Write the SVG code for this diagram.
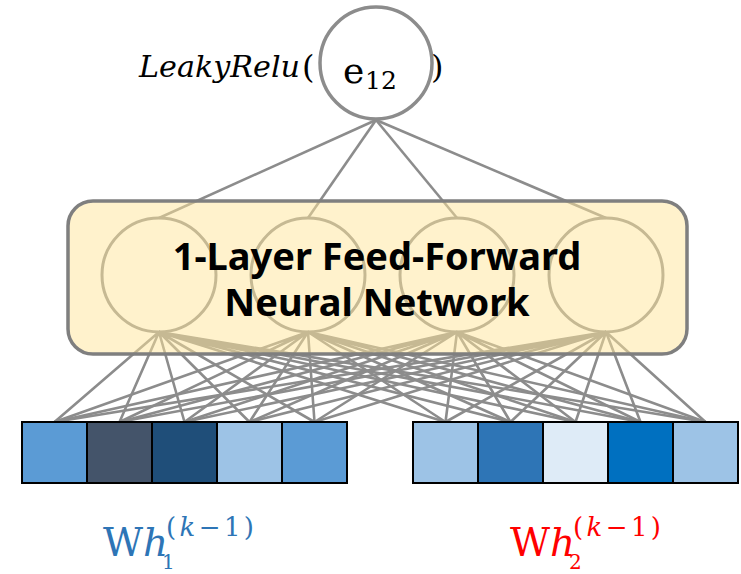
<svg xmlns="http://www.w3.org/2000/svg" width="741" height="574" viewBox="0 0 741 574">
<style>
.ln{stroke:#8c8c8c;stroke-width:2.6;fill:none}
.neuron{fill:none;stroke:#8c8c8c;stroke-width:3}
.cell{stroke:#000;stroke-width:2}
.math{font-family:"DejaVu Serif","Liberation Serif",serif}
.title{font-family:"Noto Sans",sans-serif;font-weight:700;font-size:38px;fill:#000;text-anchor:middle}
</style>
<rect width="741" height="574" fill="#fff"/>
<g id="connectors">
<line class="ln" x1="376" y1="120" x2="159" y2="218"/>
<line class="ln" x1="376" y1="120" x2="308" y2="218"/>
<line class="ln" x1="376" y1="120" x2="457" y2="218"/>
<line class="ln" x1="376" y1="120" x2="606" y2="218"/>
<g id="bottom-lines">
<path class="ln" d="M159 332L54.5 422M159 332L119.5 422M159 332L184.5 422M159 332L249.5 422M159 332L314.5 422M159 332L445.5 422M159 332L510.5 422M159 332L575.5 422M159 332L640.5 422M159 332L705.5 422"/>
<path class="ln" d="M308 332L54.5 422M308 332L119.5 422M308 332L184.5 422M308 332L249.5 422M308 332L314.5 422M308 332L445.5 422M308 332L510.5 422M308 332L575.5 422M308 332L640.5 422M308 332L705.5 422"/>
<path class="ln" d="M457 332L54.5 422M457 332L119.5 422M457 332L184.5 422M457 332L249.5 422M457 332L314.5 422M457 332L445.5 422M457 332L510.5 422M457 332L575.5 422M457 332L640.5 422M457 332L705.5 422"/>
<path class="ln" d="M606 332L54.5 422M606 332L119.5 422M606 332L184.5 422M606 332L249.5 422M606 332L314.5 422M606 332L445.5 422M606 332L510.5 422M606 332L575.5 422M606 332L640.5 422M606 332L705.5 422"/>
</g>
</g>
<g id="hidden-neurons">
<circle id="n1" class="neuron" cx="159" cy="275" r="57"/>
<circle id="n2" class="neuron" cx="308" cy="275" r="57"/>
<circle id="n3" class="neuron" cx="457" cy="275" r="57"/>
<circle id="n4" class="neuron" cx="606" cy="275" r="57"/>
</g>
<g id="ffnn">
<rect x="68" y="201" width="619" height="153" rx="25" fill="#ffe699" fill-opacity="0.5" stroke="#7f7f7f" stroke-width="3.5"/>
<text class="title" x="377" y="270">1-Layer Feed-Forward</text>
<text class="title" x="377" y="316">Neural Network</text>
</g>
<g id="e12">
<circle cx="376" cy="63" r="56" fill="#fff" stroke="#8c8c8c" stroke-width="3.5"/>
<text class="math" x="139" y="77" font-size="30" font-style="italic" textLength="161" lengthAdjust="spacingAndGlyphs">LeakyRelu</text>
<text class="math" x="302" y="78" font-size="32">(</text>
<text class="math" x="431" y="78" font-size="32">)</text>
<text class="math" x="343" y="83" font-size="36">e</text>
<text class="math" x="365" y="89" font-size="25">12</text>
</g>
<g id="vec1">
<rect class="cell" x="22" y="422" width="65" height="61" fill="#5b9bd5"/>
<rect class="cell" x="87" y="422" width="65" height="61" fill="#44546a"/>
<rect class="cell" x="152" y="422" width="65" height="61" fill="#1f4e79"/>
<rect class="cell" x="217" y="422" width="65" height="61" fill="#9dc3e6"/>
<rect class="cell" x="282" y="422" width="65" height="61" fill="#5b9bd5"/>
</g>
<g id="vec2">
<rect class="cell" x="413" y="422" width="65" height="61" fill="#9dc3e6"/>
<rect class="cell" x="478" y="422" width="65" height="61" fill="#2e75b6"/>
<rect class="cell" x="543" y="422" width="65" height="61" fill="#deebf7"/>
<rect class="cell" x="608" y="422" width="65" height="61" fill="#0070c0"/>
<rect class="cell" x="673" y="422" width="65" height="61" fill="#9dc3e6"/>
</g>
<g id="label1" fill="#2e75b6">
<text class="math" x="103" y="556" font-size="39">W<tspan font-style="italic">h</tspan></text>
<text class="math" x="166" y="536" font-size="26" textLength="88" lengthAdjust="spacing">(<tspan font-style="italic">k</tspan>−1)</text>
<text class="math" x="162" y="569" font-size="20">1</text>
</g>
<g id="label2" fill="#ff0000">
<text class="math" x="510" y="556" font-size="39">W<tspan font-style="italic">h</tspan></text>
<text class="math" x="573" y="536" font-size="26" textLength="88" lengthAdjust="spacing">(<tspan font-style="italic">k</tspan>−1)</text>
<text class="math" x="569" y="569" font-size="20">2</text>
</g>
</svg>
